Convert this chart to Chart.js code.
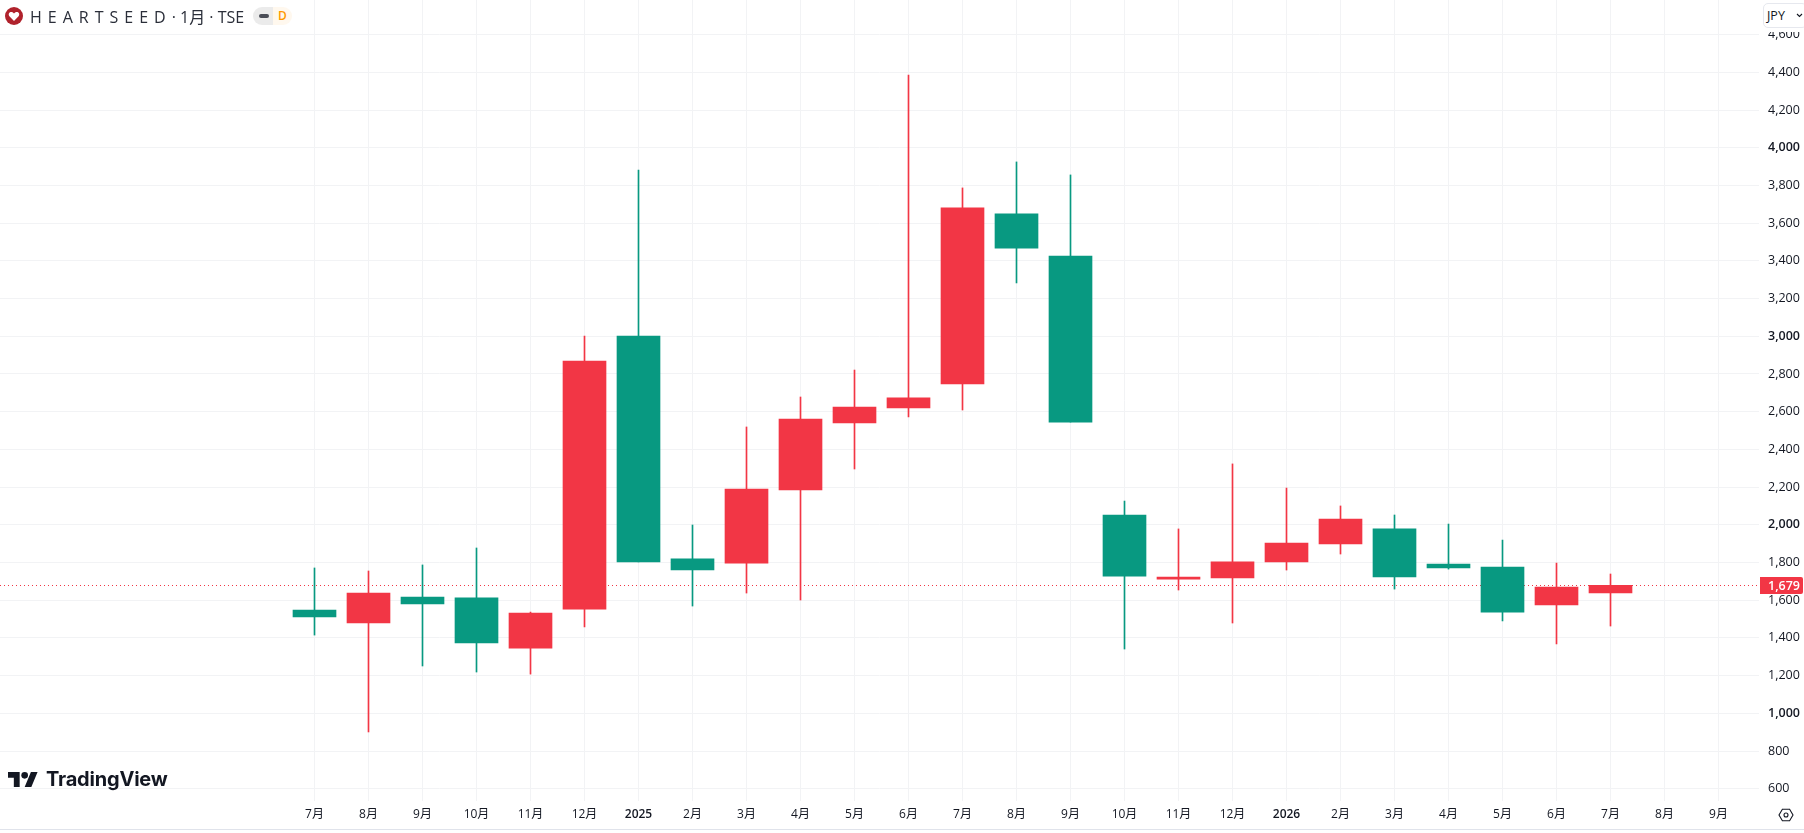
<!DOCTYPE html>
<html lang="ja">
<head>
<meta charset="utf-8">
<title>HEARTSEED 1月 TSE</title>
<script src="https://cdn.jsdelivr.net/npm/chart.js@4/dist/chart.umd.min.js"></script>
<style>
  html, body { margin: 0; padding: 0; background: #fff; overflow: hidden; }
  #wrap { position: relative; width: 1804px; height: 833px; font-family: "Open Sans", "Noto Sans CJK JP", sans-serif; color: #131722; }
  canvas { position: absolute; left: 0; top: 0; }
  .abs { position: absolute; }
  #symbol { left: 30px; top: 6px; font-size: 16px; line-height: 22px; white-space: nowrap; color: #2a2e39; }
  #symbol .name { letter-spacing: 6px; }
  #pill { left: 253px; top: 7px; width: 39px; height: 18px; border-radius: 9px; overflow: hidden; display: flex; }
  #pill .l { width: 20px; background: #ebebeb; position: relative; }
  #pill .l i { position: absolute; left: 6px; top: 7px; width: 10px; height: 4px; border-radius: 2px; background: #4a4d57; }
  #pill .r { width: 19px; background: #fff8ee; color: #ff9800; font-size: 12px; font-weight: 600; line-height: 18px; text-align: center; }
  #ccyBack { left: 1760px; top: 0; width: 44px; height: 32px; background: #fff; }
  #ccy { left: 1763px; top: 3px; width: 44px; height: 25px; box-sizing: border-box; border: 1px solid #e6e8ee; border-radius: 5px; font-size: 12.5px; line-height: 23px; padding-left: 3px; }
  #brand { left: 46px; top: 766px; font-family: Inter, sans-serif; font-weight: 700; font-size: 20px; line-height: 26px; letter-spacing: -0.2px; color: #131722; }
  #baseLine { left: 0; top: 829px; width: 1804px; height: 1px; background: #e0e3eb; }
</style>
</head>
<body>
<div id="wrap">
  <canvas id="chart" width="1804" height="833"></canvas>

  <svg class="abs" style="left:5px;top:7px" width="18" height="18" viewBox="0 0 18 18">
    <circle cx="9" cy="9" r="9" fill="#b0222c"/>
    <path d="M9 14 L4.4 9.2 C3 7.4 4 5 6.2 5 C7.4 5 8.4 5.6 9 6.6 C9.6 5.6 10.6 5 11.8 5 C14 5 15 7.4 13.6 9.2 Z" fill="#fff"/>
  </svg>
  <div id="symbol" class="abs"><span class="name">HEARTSEED</span>· 1月 · TSE</div>
  <div id="pill" class="abs"><div class="l"><i></i></div><div class="r">D</div></div>

  <div id="ccyBack" class="abs"></div>
  <div id="ccy" class="abs">JPY</div>
  <svg class="abs" style="left:1796px;top:13px" width="7" height="5" viewBox="0 0 7 5">
    <path d="M1 1 L3.5 3.5 L6 1" fill="none" stroke="#131722" stroke-width="1.1"/>
  </svg>

  <svg class="abs" style="left:8px;top:772px" width="30" height="15" viewBox="0 4 36 18">
    <path d="M14 22H7V11H0V4h14v18zM28 22h-8l7.5-18h8L28 22z" fill="#131722"/>
    <circle cx="20" cy="8" r="4" fill="#131722"/>
  </svg>
  <div id="brand" class="abs">TradingView</div>

  <svg class="abs" style="left:1778px;top:807px" width="16" height="16" viewBox="0 0 16 16">
    <path d="M4.4 2.2 H11.6 L15 8 L11.6 13.8 H4.4 L1 8 Z" fill="none" stroke="#131722" stroke-width="1.1"/>
    <circle cx="8" cy="8" r="2" fill="none" stroke="#131722" stroke-width="1.1"/>
  </svg>
  <div id="baseLine" class="abs"></div>
</div>

<script>
// monthly candles, Jul 2024 to Jul 2026
const tickLabels = ["7月", "8月", "9月", "10月", "11月", "12月", "2025", "2月", "3月", "4月", "5月", "6月", "7月", "8月", "9月", "10月", "11月", "12月", "2026", "2月", "3月", "4月", "5月", "6月", "7月", "8月", "9月"];
const open  = [1548, 1479, 1617, 1612, 1346, 1553, 3001, 1819, 1797, 2185, 2540, 2620, 2747, 3649, 3426, 2052, 1712, 1718, 1803, 1898, 1978, 1792, 1776, 1575, 1638];
const high  = [1771, 1755, 1787, 1877, 1537, 3001, 3882, 1999, 2519, 2678, 2821, 4386, 3787, 3925, 3856, 2126, 1978, 2323, 2195, 2100, 2052, 2004, 1919, 1797, 1739];
const low   = [1415,  901, 1251, 1219, 1208, 1458, 1803, 1569, 1638, 1601, 2296, 2572, 2609, 3283, 2545, 1341, 1654, 1479, 1760, 1845, 1659, 1765, 1490, 1368, 1463];
const close = [1511, 1638, 1580, 1373, 1532, 2869, 1803, 1760, 2190, 2561, 2625, 2673, 3681, 3468, 2545, 1728, 1723, 1803, 1903, 2031, 1723, 1771, 1537, 1670, 1679];
const lastPrice = close[close.length - 1];

const UP = "#F23645";
const DOWN = "#089981";
const GRID = "#f2f3f5";
const FONT = '"Open Sans", "Noto Sans CJK JP", sans-serif';

const candleColor = (ctx) => close[ctx.dataIndex] >= open[ctx.dataIndex] ? UP : DOWN;

// dotted last-price line behind the candles and its tag on the price axis
const lastPricePlugin = {
  id: "lastPrice",
  beforeDatasetsDraw(chart) {
    const { ctx, chartArea, scales } = chart;
    const y = Math.floor(scales.y.getPixelForValue(lastPrice)) + 0.5;
    ctx.save();
    ctx.strokeStyle = UP;
    ctx.lineWidth = 1;
    ctx.setLineDash([1, 3]);
    ctx.beginPath();
    ctx.moveTo(chartArea.left, y);
    ctx.lineTo(chartArea.right, y);
    ctx.stroke();
    ctx.restore();
  },
  afterDraw(chart) {
    const { ctx, chartArea, scales } = chart;
    const y = Math.floor(scales.y.getPixelForValue(lastPrice));
    ctx.save();
    ctx.fillStyle = UP;
    ctx.beginPath();
    ctx.roundRect(chartArea.right + 1, y - 8, 43, 17, [0, 2, 2, 0]);
    ctx.fill();
    ctx.fillStyle = "#fff";
    ctx.font = "600 12.5px " + FONT;
    ctx.textBaseline = "middle";
    ctx.fillText(lastPrice.toLocaleString("en-US"), chartArea.right + 9, y + 1);
    ctx.restore();
  },
};

new Chart(document.getElementById("chart"), {
  type: "bar",
  data: {
    datasets: [
      {
        label: "body",
        data: open.map((o, i) => ({ x: i, y: [o, close[i]] })),
        backgroundColor: candleColor,
        barThickness: 43,
        grouped: false,
        borderSkipped: false,
      },
      {
        label: "wick",
        data: high.map((h, i) => ({ x: i, y: [low[i], h] })),
        backgroundColor: candleColor,
        barThickness: 1,
        grouped: false,
        borderSkipped: false,
      },
    ],
  },
  options: {
    responsive: false,
    animation: false,
    layout: { padding: 0 },
    plugins: { legend: { display: false }, tooltip: { enabled: false } },
    scales: {
      x: {
        type: "linear",
        offset: false,
        // 54px per month across the 1759px wide plot
        min: -314.5 / 54,
        max: 1444.5 / 54,
        afterBuildTicks(scale) {
          scale.ticks = tickLabels.map((_, i) => ({ value: i }));
        },
        afterFit(scale) {
          scale.height = 32;
          scale.paddingLeft = 0;
          scale.paddingRight = 0;
        },
        grid: { color: GRID, offset: false, drawTicks: false },
        border: { display: false },
        ticks: {
          autoSkip: false,
          maxRotation: 0,
          padding: 6,
          color: "#131722",
          callback: (v) => tickLabels[v],
          font: (ctx) => ({
            family: FONT,
            size: 12,
            weight: ctx.tick && /^\d{4}$/.test(tickLabels[ctx.tick.value]) ? "600" : "normal",
          }),
        },
      },
      y: {
        position: "right",
        min: 534.8,
        max: 4784,
        afterFit(scale) {
          // no half-label gutter, the plot runs up to the top of the canvas
          scale.width = 45;
          scale.paddingTop = 0;
          scale.paddingBottom = 0;
        },
        grid: { color: GRID, drawTicks: false },
        border: { display: false },
        ticks: {
          stepSize: 200,
          includeBounds: false,
          padding: 9,
          color: "#131722",
          callback: (v) => v.toLocaleString("en-US"),
          font: (ctx) => ({
            family: FONT,
            size: 12.5,
            weight: ctx.tick && ctx.tick.value % 1000 === 0 ? "600" : "normal",
          }),
        },
      },
    },
  },
  plugins: [lastPricePlugin],
});
</script>
</body>
</html>
